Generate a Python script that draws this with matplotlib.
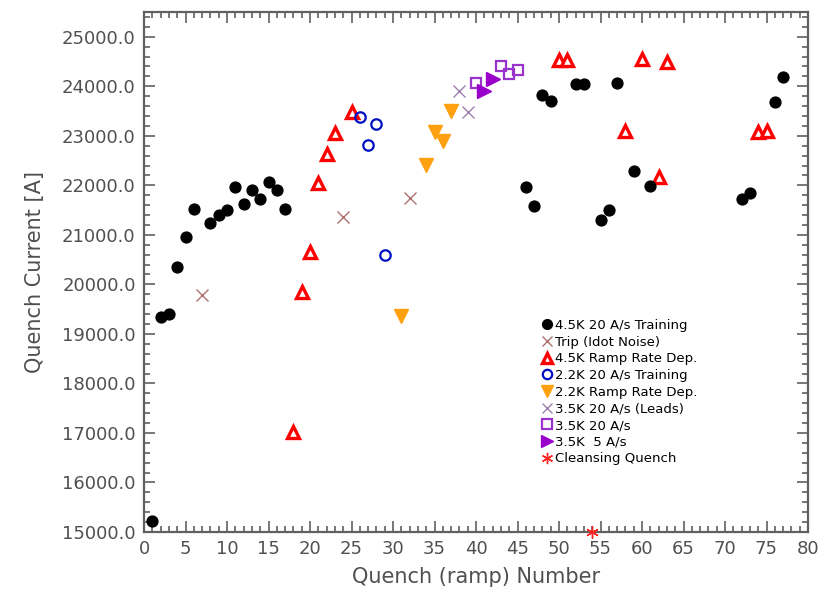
import matplotlib
matplotlib.use("Agg")
import matplotlib.pyplot as plt
from matplotlib.ticker import MultipleLocator, FormatStrFormatter
from matplotlib.lines import Line2D

# 4.5K 20 A/s Training
train45_x = [1, 2, 3, 4, 5, 6, 8, 9, 10, 11, 12, 13, 14, 15, 16, 17,
             46, 47, 48, 49, 52, 53, 55, 56, 57, 59, 61, 72, 73, 76, 77]
train45_y = [15220, 19335, 19395, 20343, 20948, 21532, 21230, 21411, 21512, 21976,
             21633, 21915, 21734, 22077, 21915, 21532,
             21976, 21573, 23831, 23710, 24052, 24052, 21290, 21512, 24073,
             22298, 21996, 21734, 21855, 23690, 24194]
# Trip (Idot Noise)
trip_x = [7, 24, 32]
trip_y = [19778, 21357, 21740]
# 4.5K Ramp Rate Dep.
ramp45_x = [18, 19, 20, 21, 22, 23, 25, 50, 51, 58, 60, 62, 63, 74, 75]
ramp45_y = [17022, 19845, 20649, 22050, 22635, 23050, 23474, 24536, 24536,
            23091, 24550, 22163, 24482, 23071, 23105]
# 2.2K 20 A/s Training
train22_x = [26, 27, 28, 29]
train22_y = [23373, 22816, 23240, 20585]
# 2.2K Ramp Rate Dep.
ramp22_x = [31, 34, 35, 36, 37]
ramp22_y = [19361, 22413, 23071, 22903, 23508]
# 3.5K 20 A/s (Leads)
leads35_x = [38, 39]
leads35_y = [23897, 23488]
# 3.5K 20 A/s
t35_x = [40, 43, 44, 45]
t35_y = [24067, 24409, 24248, 24335]
# 3.5K 5 A/s
t35slow_x = [41, 42]
t35slow_y = [23911, 24147]
# Cleansing Quench
clean_x = [54]
clean_y = [15000]

labels = ["4.5K 20 A/s Training", "Trip (Idot Noise)", "4.5K Ramp Rate Dep.",
          "2.2K 20 A/s Training", "2.2K Ramp Rate Dep.", "3.5K 20 A/s (Leads)",
          "3.5K 20 A/s", "3.5K  5 A/s", "Cleansing Quench"]

fig = plt.figure(figsize=(8.19, 5.96), dpi=100)
ax = fig.add_axes([144/819, 1-532/596, 664/819, 520/596])

ax.plot(train45_x, train45_y, 'o', color='black', ms=7.8, label=labels[0], clip_on=False, zorder=5)
ax.plot(trip_x, trip_y, 'x', color='#b07070', ms=8, mew=1.0, label=labels[1], clip_on=False)
ax.plot(ramp45_x, ramp45_y, '^', mfc='white', mec='#ff0000', ms=8.5, mew=2.4, label=labels[2], clip_on=False)
ax.plot(train22_x, train22_y, 'o', mfc='none', mec='#0010c0', ms=7.5, mew=1.6, label=labels[3], clip_on=False)
ax.plot(ramp22_x, ramp22_y, 'v', color='#ffa010', ms=9.5, label=labels[4], clip_on=False)
ax.plot(leads35_x, leads35_y, 'x', color='#a080b0', ms=8, mew=1.0, label=labels[5], clip_on=False)
ax.plot(t35_x, t35_y, 's', mfc='none', mec='#9933cc', ms=7.5, mew=1.6, label=labels[6], clip_on=False)
ax.plot(t35slow_x, t35slow_y, '>', color='#9900cc', ms=10, label=labels[7], clip_on=False)
ax.plot(clean_x, clean_y, marker=(6, 2, 0), color='#ff2020', ms=9, mew=1.0, ls='none',
        label=labels[8], clip_on=False, zorder=6)

ax.set_xlim(0, 80)
ax.set_ylim(15000, 25500)

frame_col = '#606060'
text_col = '#505050'
for s in ax.spines.values():
    s.set_color(frame_col)
    s.set_linewidth(1.6)

ax.xaxis.set_major_locator(MultipleLocator(5))
ax.xaxis.set_minor_locator(MultipleLocator(1))
ax.yaxis.set_major_locator(MultipleLocator(1000))
ax.yaxis.set_minor_locator(MultipleLocator(200))
ax.yaxis.set_major_formatter(FormatStrFormatter('%.1f'))
ax.tick_params(which='both', direction='in', top=True, right=True, color=frame_col, width=1.2)
ax.tick_params(which='major', length=8, labelsize=13, labelcolor=text_col, pad=6)
ax.tick_params(which='minor', length=4)

ax.set_xlabel("Quench (ramp) Number", fontsize=15, color=text_col, labelpad=6)
ax.set_ylabel("Quench Current [A]", fontsize=15, color=text_col, labelpad=12)

handles, labs = ax.get_legend_handles_labels()
leg = ax.legend(handles, labs, loc='upper left', bbox_to_anchor=(0.592, 0.42), frameon=False,
                fontsize=9.5, handlelength=0.7, handletextpad=0.25, labelspacing=0.28,
                borderaxespad=0, markerscale=0.9)

fig.savefig("out.png", dpi=100)
